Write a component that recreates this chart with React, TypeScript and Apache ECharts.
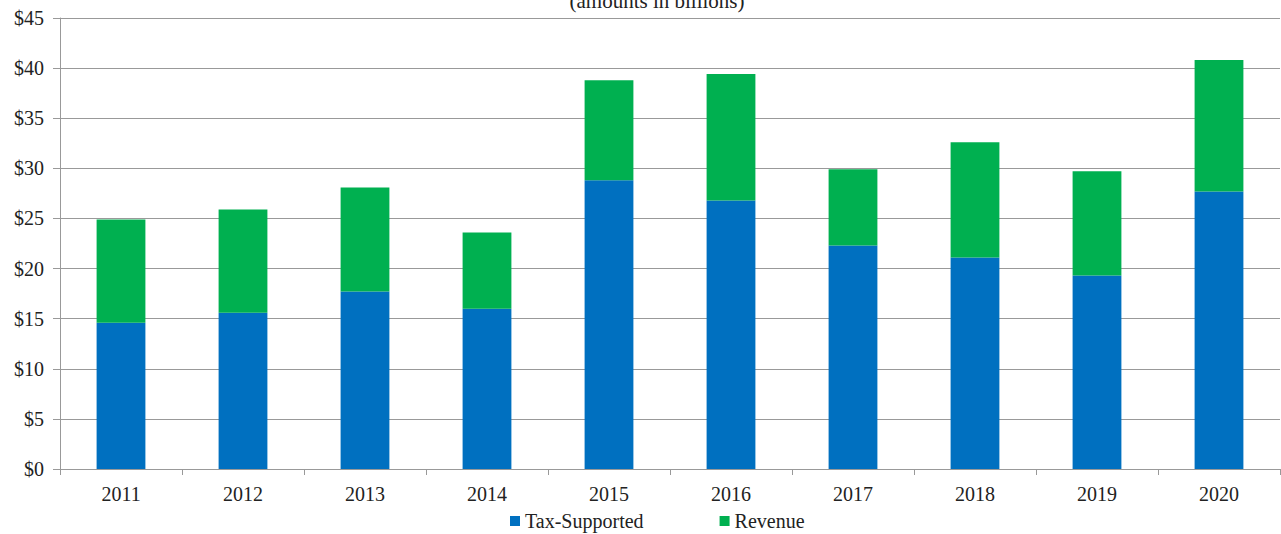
import React, { useEffect, useRef } from "react";
import * as echarts from "echarts";

const years = ["2011", "2012", "2013", "2014", "2015", "2016", "2017", "2018", "2019", "2020"];
const taxSupported = [14.6, 15.6, 17.7, 16.0, 28.8, 26.8, 22.3, 21.1, 19.3, 27.7];
const revenue = [10.3, 10.3, 10.4, 7.6, 10.0, 12.6, 7.6, 11.5, 10.4, 13.1];
const yTicks = { min: 0, max: 45, interval: 5 };

const FONT = "Liberation Serif";

export default function App() {
  const ref = useRef<HTMLDivElement>(null);
  useEffect(() => {
    if (!ref.current) return;
    const chart = echarts.init(ref.current, undefined, { renderer: "svg" });
    chart.setOption({
      animation: false,
      textStyle: { fontFamily: FONT },
      graphic: [
        {
          type: "text",
          x: 657,
          y: 1,
          style: {
            text: "(amounts in billions)",
            fontFamily: FONT,
            fontSize: 21,
            fill: "#222",
            textAlign: "center",
            textVerticalAlign: "middle",
          },
        },
      ],
      grid: { left: 60, right: 1, top: 18, bottom: 65, containLabel: false },
      legend: {
        top: 506,
        left: 505,
        itemWidth: 10,
        itemHeight: 10,
        itemGap: 76,
        icon: "rect",
        textStyle: { fontFamily: FONT, fontSize: 20, color: "#222" },
        data: ["Tax-Supported", "Revenue"],
      },
      xAxis: {
        type: "category",
        data: years,
        axisLine: { lineStyle: { color: "#999", width: 1 } },
        axisTick: { show: true, length: 6, lineStyle: { color: "#999" } },
        axisLabel: { fontFamily: FONT, fontSize: 20, color: "#222", margin: 15 },
      },
      yAxis: {
        type: "value",
        min: yTicks.min,
        max: yTicks.max,
        interval: yTicks.interval,
        axisLine: { show: true, lineStyle: { color: "#999", width: 1 } },
        axisTick: { show: true, length: 7, lineStyle: { color: "#999" } },
        splitLine: { lineStyle: { color: "#999", width: 1 } },
        axisLabel: {
          fontFamily: FONT,
          fontSize: 20,
          color: "#222",
          margin: 16,
          formatter: (v: number) => "$" + v,
        },
      },
      series: [
        {
          name: "Tax-Supported",
          type: "bar",
          stack: "total",
          barWidth: "40%",
          itemStyle: { color: "#0070C0" },
          data: taxSupported,
        },
        {
          name: "Revenue",
          type: "bar",
          stack: "total",
          barWidth: "40%",
          itemStyle: { color: "#00B050" },
          data: revenue,
        },
      ],
    });
    return () => chart.dispose();
  }, []);
  return (
    <div
      ref={ref}
      style={{ position: "absolute", left: 0, top: 0, width: 1281, height: 534 }}
    />
  );
}
